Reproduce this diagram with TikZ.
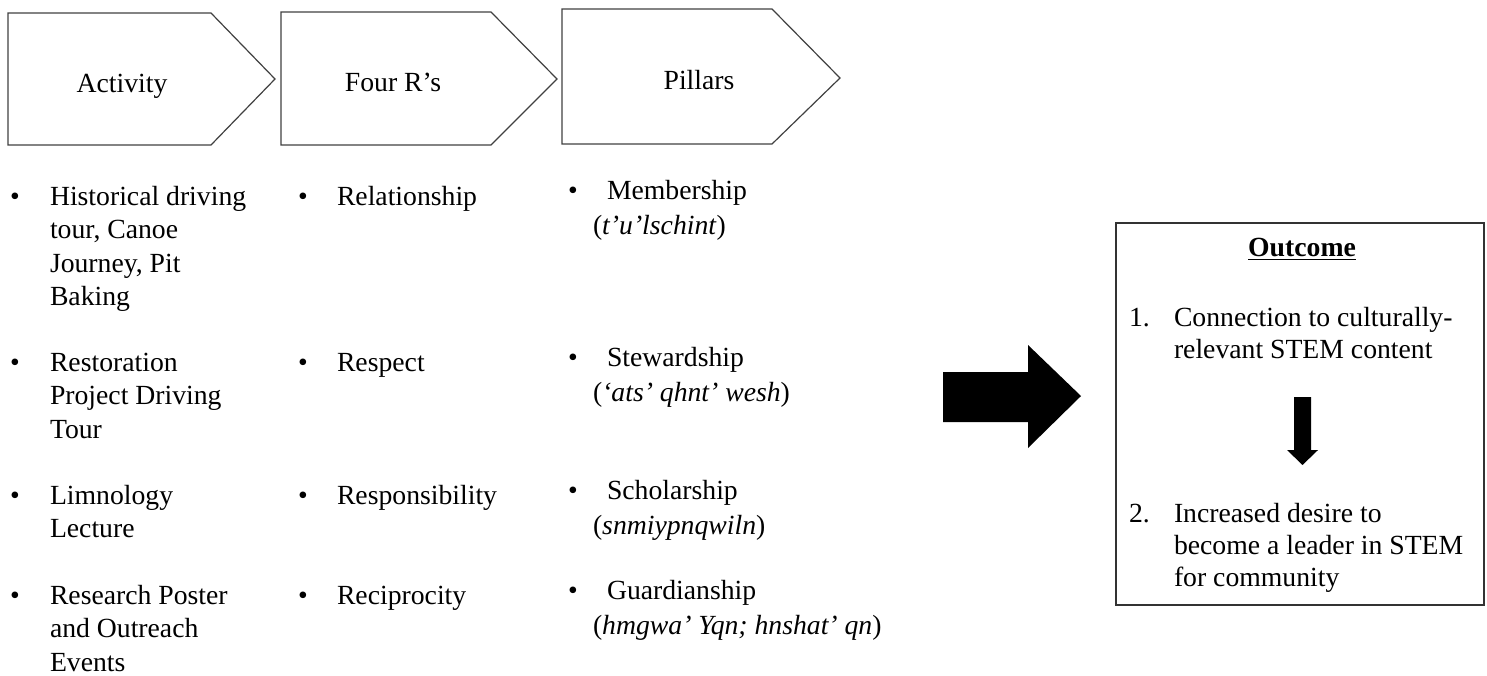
\documentclass[tikz,border=0pt]{standalone}
\usepackage{fontspec}
\setmainfont{Liberation Serif}
\begin{document}
\begin{tikzpicture}[x=0.5pt,y=-0.5pt,
  every node/.style={inner sep=0pt, outer sep=0pt},
  txt/.style={font=\fontsize{13.85}{16.8}\selectfont, anchor=base west, align=left},
  ptxt/.style={font=\fontsize{13.85}{17.8}\selectfont, anchor=base west, align=left},
  otxt/.style={font=\fontsize{13.85}{16.2}\selectfont, anchor=base west, align=left},
  bul/.style={font=\fontsize{13.85}{16.8}\selectfont, anchor=base},
  lab/.style={font=\fontsize{13.85}{16.8}\selectfont, anchor=base},
  chev/.style={draw=black!75, line width=0.6pt},
  blockarrow/.style={fill=black, draw=none},
]
\useasboundingbox (0,0) rectangle (1487,675);

% chevrons
\draw[chev] (8,13) -- (211,13) -- (275,79) -- (211,145) -- (8,145) -- cycle;
\draw[chev] (281,12) -- (491,12) -- (557,79) -- (491,145) -- (281,145) -- cycle;
\draw[chev] (562,9) -- (772,9) -- (840,78) -- (772,144) -- (562,144) -- cycle;
\node[lab] (h1) at (122,92) {Activity};
\node[lab] (h2) at (393,91) {Four R’s};
\node[lab] (h3) at (699,89) {Pillars};

% column 1 (base anchor = last line's baseline)
\node[bul] (b11) at (15,205) {•};
\node[txt] (a1) at (50,305.8) {Historical driving\\tour, Canoe\\Journey, Pit\\Baking};
\node[bul] (b12) at (15,371) {•};
\node[txt] (a2) at (50,438.2) {Restoration\\Project Driving\\Tour};
\node[bul] (b13) at (15,504) {•};
\node[txt] (a3) at (50,537.6) {Limnology\\Lecture};
\node[bul] (b14) at (15,604) {•};
\node[txt] (a4) at (50,671.2) {Research Poster\\and Outreach\\Events};

% column 2
\node[bul] (b21) at (303,205) {•};
\node[txt] (r1) at (337,205) {Relationship};
\node[bul] (b22) at (303,371) {•};
\node[txt] (r2) at (337,371) {Respect};
\node[bul] (b23) at (303,504) {•};
\node[txt] (r3) at (337,504) {Responsibility};
\node[bul] (b24) at (303,604) {•};
\node[txt] (r4) at (337,604) {Reciprocity};

% column 3
\node[bul] (b31) at (573,199) {•};
\node[ptxt] (p1) at (593,234.6) {\hspace{7pt}Membership\\(\textit{t’u’lschint})};
\node[bul] (b32) at (573,366) {•};
\node[ptxt] (p2) at (593,401.6) {\hspace{7pt}Stewardship\\(\textit{‘ats’ qhnt’ wesh})};
\node[bul] (b33) at (573,499) {•};
\node[ptxt] (p3) at (593,534.6) {\hspace{7pt}Scholarship\\(\textit{snmiypnqwiln})};
\node[bul] (b34) at (573,599) {•};
\node[ptxt] (p4) at (593,634.6) {\hspace{7pt}Guardianship\\(\textit{hmgwa’ Yqn; hnshat’ qn})};

% big arrow
\fill[blockarrow] (943,372) -- (1028,372) -- (1028,345) -- (1081,396) -- (1028,448) -- (1028,422) -- (943,422) -- cycle;

% outcome box
\node[draw=black!80, line width=0.6pt, minimum width=184pt, minimum height=191pt, anchor=north west] (box) at (1116,223) {};
\node[lab, font=\fontsize{13.85}{16.8}\selectfont\bfseries] (ot) at (1302,256) {\underline{Outcome}};
\node[otxt] (n1) at (1129,326) {1.};
\node[otxt] (o1) at (1174,358.4) {Connection to culturally-\\relevant STEM content};
\node[otxt] (n2) at (1129,522) {2.};
\node[otxt] (o2) at (1174,586.8) {Increased desire to\\become a leader in STEM\\for community};
\fill[blockarrow] (1294,397) -- (1311,397) -- (1311,450) -- (1318,450) -- (1302.5,465) -- (1287,450) -- (1294,450) -- cycle;
\end{tikzpicture}
\end{document}
